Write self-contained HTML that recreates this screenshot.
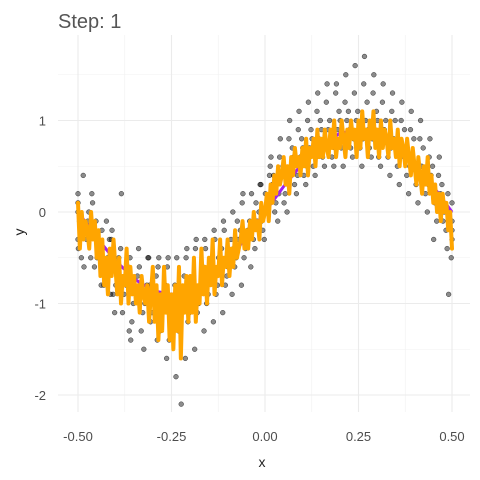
<!DOCTYPE html>
<html><head><meta charset="utf-8">
<style>
body{margin:0;background:#fff;}
svg{display:block;font-family:"Liberation Sans",sans-serif;}
</style></head>
<body>
<svg id="chart" width="480" height="480">
<text x="58" y="28" font-size="20" fill="#555">Step: 1</text>
<g id="grid"></g>
<g id="pts"></g>
<g id="lines"></g>
<g id="axes"></g>
<text x="262" y="467" font-size="14" fill="#222" text-anchor="middle">x</text>
<text x="24" y="232" font-size="14" fill="#222" text-anchor="middle" transform="rotate(-90 24 232)">y</text>
</svg>
<script>
const xTicks=[-0.5,-0.25,0,0.25,0.5];
const xTickLabels=["-0.50","-0.25","0.00","0.25","0.50"];
const yTicks=[-2,-1,0,1];
const yTickLabels=["-2","-1","0","1"];
const fitY=[0.1,-0.4,0.0,-0.3,-0.1,-0.2,-0.4,0.0,-0.3,-0.1,
-0.5,-0.2,-0.7,-0.3,-0.8,-0.5,-0.9,-0.4,-0.7,-0.3,
-0.6,-0.9,-0.5,-1.0,-0.7,-0.8,-0.4,-1.0,-0.6,-0.9,
-0.7,-1.0,-0.8,-1.1,-0.7,-0.9,-1.0,-0.8,-1.2,-0.9,
-0.6,-1.2,-0.8,-1.4,-0.9,-1.3,-0.6,-1.1,-0.8,-1.4,
-0.9,-1.5,-0.8,-1.3,-0.6,-1.6,-0.8,-1.1,-0.7,-1.2,
-0.7,-1.1,-0.5,-1.2,-0.8,-1.0,-0.4,-0.9,-0.6,-1.0,
-0.5,-0.8,-0.3,-0.9,-0.6,-0.7,-0.3,-0.8,-0.5,-0.6,
-0.3,-0.7,-0.4,-0.6,-0.2,-0.5,-0.4,-0.3,-0.1,-0.4,
-0.2,-0.4,-0.1,-0.3,0.0,-0.2,-0.1,-0.3,0.1,-0.1,
0.0,0.2,-0.1,0.3,0.1,0.4,0.2,0.5,0.3,0.4,
0.6,0.3,0.5,0.2,0.6,0.4,0.7,0.5,0.6,0.4,
0.7,0.5,0.8,0.4,0.7,0.6,0.8,0.5,0.9,0.6,
0.8,0.6,0.9,0.7,0.6,0.9,0.7,1.0,0.6,0.8,
0.7,1.0,0.8,0.6,0.9,0.7,1.0,0.8,0.9,0.6,
1.0,0.7,1.1,0.8,0.9,0.6,1.0,0.8,1.1,0.7,
0.9,0.6,1.0,0.7,0.9,0.8,0.6,1.0,0.7,0.8,
0.6,0.9,0.5,0.8,0.7,0.5,0.8,0.6,0.4,0.7,
0.5,0.3,0.6,0.4,0.2,0.5,0.3,0.6,0.2,0.4,
0.1,0.3,0.0,0.2,-0.1,0.2,0.0,0.1,-0.2,0.0,-0.4];
const fitX=fitY.map((_,i)=>-0.5+i/(fitY.length-1));
const trueX=[-0.5,-0.45,-0.4,-0.35,-0.3,-0.25,-0.2,-0.15,-0.1,-0.05,0,0.05,0.1,0.15,0.2,0.25,0.3,0.35,0.4,0.45,0.5];
const trueY=[0,-0.28,-0.53,-0.73,-0.86,-0.9,-0.86,-0.73,-0.53,-0.28,0,0.28,0.53,0.73,0.86,0.9,0.86,0.73,0.53,0.28,0];
const binX=[-0.5,-0.475,-0.45,-0.425,-0.4,-0.375,-0.35,-0.325,-0.3,-0.275,-0.25,-0.225,-0.2,-0.175,-0.15,-0.125,-0.1,-0.075,-0.05,-0.025,0,0.025,0.05,0.075,0.1,0.125,0.15,0.175,0.2,0.225,0.25,0.275,0.3,0.325,0.35,0.375,0.4,0.425,0.45,0.475,0.5];
const binY=[
[0.2,-0.1,-0.3,-0.5,0.1,-0.2,0.0,-0.4],[0.4,0.0,-0.2,-0.5,-0.3,0.2,-0.6,-0.1],[0.1,-0.3,-0.6,-0.4,-0.1,-0.8,-0.2,-0.5],
[-0.2,-0.5,-0.8,-0.3,-0.6,-0.9,-0.4,-0.1],[-0.3,-0.6,-0.9,-0.5,-1.1,-0.7,-0.2,-0.8],[-0.4,-0.8,-1.1,-0.6,-0.9,-1.3,0.2,-0.7],
[-0.5,-0.9,-1.2,-0.7,-1.0,-0.4,-1.4,-0.8],[-0.6,-1.0,-1.3,-0.8,-1.1,-0.5,-0.9,-1.5],[-0.5,-0.9,-1.2,-0.7,-1.1,-1.4,-0.8,-1.0],
[-0.6,-1.0,-1.3,-0.8,-1.2,-1.6,-0.5,-0.9],[-0.6,-1.0,-1.4,-0.8,-1.2,-1.8,-0.5,-1.1],[-0.5,-1.0,-1.3,-0.7,-1.2,-1.6,-0.9,-2.1],
[-0.5,-0.9,-1.2,-0.7,-1.1,-1.5,-0.4,-1.0],[-0.4,-0.8,-1.1,-0.6,-1.0,-1.3,-0.3,-0.9],[-0.3,-0.7,-1.0,-0.5,-0.9,-1.2,-0.4,-0.6],
[-0.2,-0.6,-0.9,-0.4,-0.8,-1.1,-0.3,-0.5],[-0.1,-0.5,-0.8,-0.3,-0.7,-0.9,-0.2,-0.6],[0.0,-0.3,-0.6,-0.2,-0.5,-0.8,-0.4,-0.1],
[0.1,-0.2,-0.5,-0.1,-0.4,-0.6,0.2,-0.3],[0.2,-0.1,-0.3,0.0,-0.4,0.3,-0.2,0.1],[0.3,0.0,-0.2,0.1,-0.3,0.4,-0.1,0.2],
[0.5,0.1,0.3,-0.1,0.4,0.2,0.6,0.0],[0.6,0.2,0.4,0.0,0.5,0.3,0.8,0.1],[0.8,0.3,0.5,0.2,0.7,0.4,1.0,0.6],
[0.9,0.4,0.6,0.3,0.8,0.5,1.1,0.7],[1.0,0.5,0.7,0.4,0.9,0.6,1.2,0.8],[1.1,0.6,0.8,0.5,1.0,0.7,1.3,0.9],
[1.2,0.6,0.9,0.5,1.0,0.7,1.4,0.8],[1.3,0.7,0.9,0.5,1.1,0.8,1.4,1.0],[1.2,0.7,1.0,0.6,1.1,0.8,1.5,0.9],
[1.3,0.7,1.0,0.5,1.1,0.8,1.6,0.9],[1.4,0.7,1.0,0.6,1.2,0.8,1.7,0.9],[1.3,0.6,0.9,0.5,1.1,0.8,1.5,1.0],
[1.2,0.6,0.9,0.4,1.0,0.7,1.4,0.8],[1.1,0.5,0.8,0.3,1.0,0.6,1.3,0.7],[1.0,0.4,0.7,0.2,0.9,0.5,1.2,0.6],
[0.9,0.3,0.6,0.1,0.8,0.4,1.1,0.5],[0.8,0.2,0.5,0.0,0.7,0.3,1.0,0.4],[0.6,0.1,0.4,-0.1,0.5,0.2,0.8,-0.3],
[0.4,0.0,0.2,-0.2,0.3,-0.4,0.6,-0.1],[0.2,-0.1,0.0,-0.3,-0.5,0.1,-0.9,-0.2]];
const jitter=[-0.011,0.004,-0.006,0.009,-0.002,0.012,-0.009,0.001];
const X=x=>265+374*x, Y=y=>212-91.5*y;
const NS="http://www.w3.org/2000/svg";
function mk(t,a,p){const e=document.createElementNS(NS,t);for(const k in a)e.setAttribute(k,a[k]);p.appendChild(e);return e;}
const grid=document.getElementById('grid'),axes=document.getElementById('axes');
for(let i=0;i<xTicks.length-1;i++){const m=(xTicks[i]+xTicks[i+1])/2;const l=mk('line',{x1:X(m),x2:X(m),y1:35,y2:412,stroke:'#f0f0f0','stroke-width':0.6},grid);

}
for(let i=0;i<yTicks.length;i++){const m=yTicks[i]+0.5;const l=mk('line',{x1:58,x2:470,y1:Y(m),y2:Y(m),stroke:'#f0f0f0','stroke-width':0.6},grid);

}
xTicks.forEach((v,i)=>{const l=mk('line',{x1:X(v),x2:X(v),y1:35,y2:412,stroke:'#ebebeb','stroke-width':1.1},grid);


const t=mk('text',{x:X(v),y:441,'font-size':13,fill:'#4d4d4d','text-anchor':'middle'},axes);t.textContent=xTickLabels[i];

});
yTicks.forEach((v,i)=>{const l=mk('line',{x1:58,x2:470,y1:Y(v),y2:Y(v),stroke:'#ebebeb','stroke-width':1.1},grid);


const t=mk('text',{x:46,y:Y(v)+5,'font-size':13,fill:'#4d4d4d','text-anchor':'end'},axes);t.textContent=yTickLabels[i];

});
const pts=document.getElementById('pts');
binX.forEach((bx,b)=>{const ys=binY[b];ys.forEach((y,j)=>{
let x=bx+jitter[j%jitter.length]; x=Math.max(-0.5,Math.min(0.5,x));
const c=mk('circle',{cx:X(x),cy:Y(y),r:2.4,fill:'rgba(0,0,0,0.45)',stroke:'rgba(0,0,0,0.7)','stroke-width':0.5},pts);

});});
const lines=document.getElementById('lines');
const tp=mk('polyline',{points:trueX.map((x,i)=>X(x)+','+Y(trueY[i])).join(' '),fill:'none',stroke:'#a020f0','stroke-width':3},lines);


const fp=mk('polyline',{points:fitX.map((x,i)=>X(x)+','+Y(fitY[i])).join(' '),fill:'none',stroke:'#ffa500','stroke-width':4,'stroke-linejoin':'round','stroke-linecap':'round'},lines);


</script>
</body></html>
